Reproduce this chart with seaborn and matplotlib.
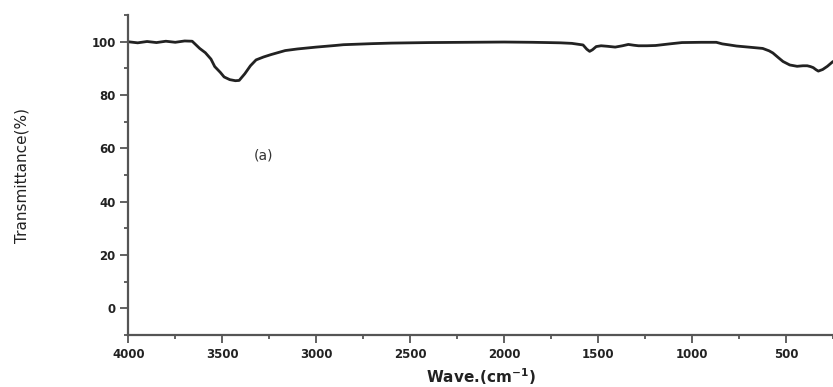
"""FTIR spectrum, sample (a)."""

import matplotlib

matplotlib.use("Agg")
import matplotlib.pyplot as plt  # noqa: E402
import seaborn as sns  # noqa: E402
from matplotlib.ticker import MultipleLocator  # noqa: E402

# wavenumber (cm-1) and transmittance (%)
wavenumber = [
    4000, 3950, 3900, 3850, 3800, 3750, 3700, 3660, 3620, 3590, 3560, 3540,
    3510, 3490, 3460, 3430, 3410, 3380, 3350, 3320, 3280, 3240, 3200, 3165,
    3100, 3000, 2900, 2855, 2700, 2600, 2400, 2200, 2000, 1850, 1770, 1700,
    1640, 1580, 1560, 1545, 1530, 1510, 1484, 1450, 1409, 1370, 1339, 1310,
    1285, 1240, 1194, 1120, 1054, 950, 871, 839, 800, 763, 700, 624, 590,
    570, 540, 516, 480, 441, 410, 387, 370, 355, 340, 328, 305, 280, 250,
]
transmittance = [
    100.0, 99.6, 100.1, 99.7, 100.2, 99.8, 100.3, 100.2, 97.5, 95.9, 93.5, 90.7,
    88.5, 86.8, 85.8, 85.4, 85.5, 88.0, 91.0, 93.2, 94.3, 95.2, 96.0, 96.7,
    97.3, 98.0, 98.6, 98.9, 99.3, 99.5, 99.7, 99.8, 99.9, 99.8, 99.7, 99.6,
    99.4, 98.8, 97.2, 96.4, 97.0, 98.2, 98.5, 98.3, 98.0, 98.5, 99.0, 98.7,
    98.5, 98.5, 98.6, 99.2, 99.7, 99.8, 99.8, 99.2, 98.8, 98.4, 98.0, 97.5, 96.6,
    95.8, 94.0, 92.6, 91.3, 90.8, 91.0, 91.0, 90.7, 90.3, 89.5, 89.0, 89.6, 90.8, 92.6,
]
y_ticks = [0, 20, 40, 60, 80, 100]
x_ticks = [4000, 3500, 3000, 2500, 2000, 1500, 1000, 500]

sns.set_theme(style="ticks")
plt.rcParams["font.family"] = ["DejaVu Sans"]

fig = plt.figure(figsize=(8.33, 3.87), dpi=100)
ax = fig.add_axes([0.154, 0.134, 0.846, 0.827])

sns.lineplot(x=wavenumber, y=transmittance, ax=ax, color="#222222",
             linewidth=2.0, estimator=None)

ax.set_xlim(4000, 250)
ax.set_ylim(-10, 110)
ax.set_xticks(x_ticks)
ax.set_yticks(y_ticks)
ax.xaxis.set_minor_locator(MultipleLocator(250))
ax.yaxis.set_minor_locator(MultipleLocator(10))

spine_color = "#555555"
for side in ("top", "right"):
    ax.spines[side].set_visible(False)
for side in ("left", "bottom"):
    ax.spines[side].set_color(spine_color)
    ax.spines[side].set_linewidth(1.6)

ax.tick_params(which="major", direction="out", length=6, width=1.3,
               color=spine_color, labelsize=8.5, labelcolor="#222222", pad=3)
ax.tick_params(which="minor", direction="out", length=3, width=1.3,
               color=spine_color)
for lab in ax.get_xticklabels() + ax.get_yticklabels():
    lab.set_fontweight("bold")

ax.set_xlabel("Wave.(cm$^{\\mathbf{-1}}$)", fontsize=11, fontweight="bold",
              color="#222222", labelpad=4)
ax.set_ylabel("Transmittance(%)", fontsize=11, color="#222222")
ax.yaxis.set_label_coords(-0.14, 0.5)

ax.text(3280, 57.5, "(a)", fontsize=10, color="#333333",
        ha="center", va="center")

fig.savefig("out.png", dpi=100)
plt.close(fig)
